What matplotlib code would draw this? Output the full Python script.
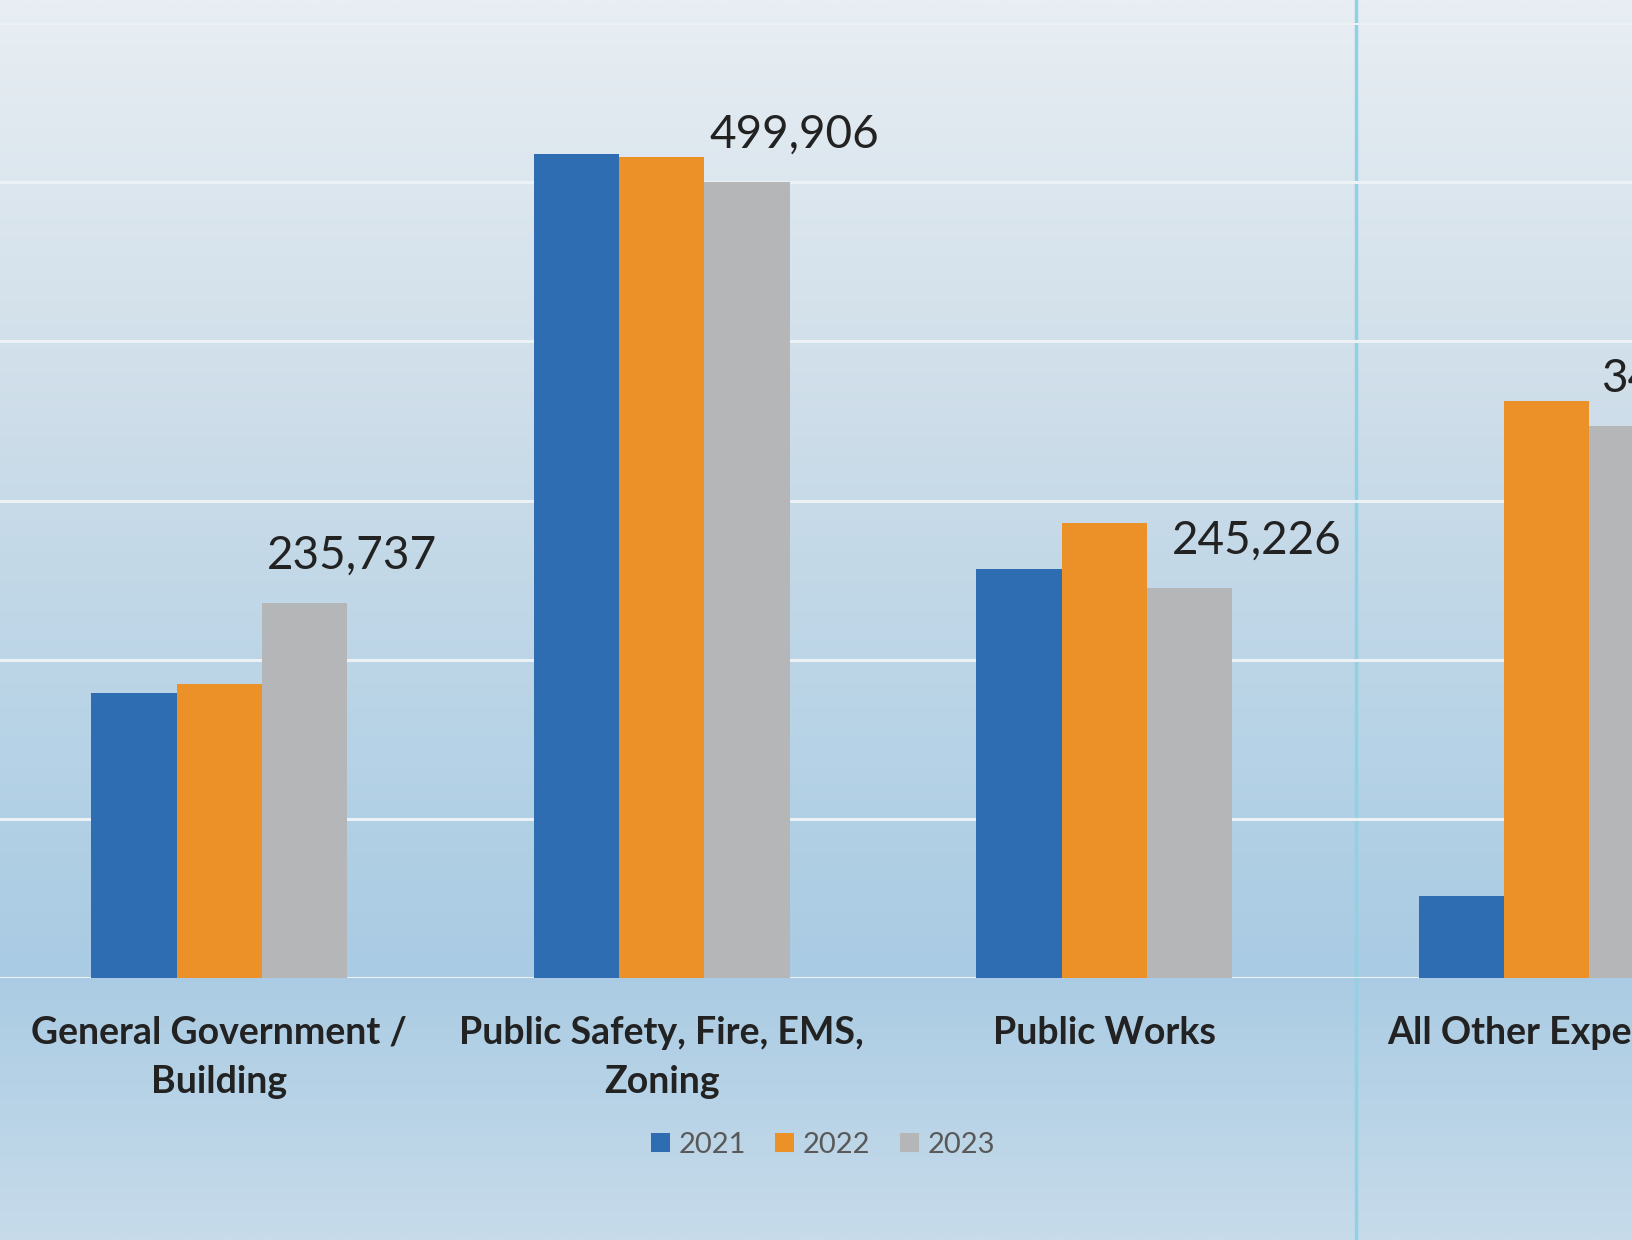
import matplotlib
matplotlib.use("Agg")
import matplotlib.pyplot as plt
import numpy as np
from matplotlib.colors import LinearSegmentedColormap
from matplotlib.patches import Patch

categories = ["General Government /\nBuilding", "Public Safety, Fire, EMS,\nZoning",
              "Public Works", "All Other Expenses"]
years = ["2021", "2022", "2023"]
v2021 = [179000, 518000, 257000, 51600]
v2022 = [185000, 516000, 286000, 362500]
v2023 = [235737, 499906, 245226, 346800]
labels2023 = ["235,737", "499,906", "245,226", "346,800"]

colors = ["#2E6DB2", "#EC9127", "#B4B6B8"]
label_dx = [0.01, 0.01, 0.055, 0.025]  # label shift (axis units) from gray bar edge

W, H = 1632, 1240
fig = plt.figure(figsize=(W / 100, H / 100), dpi=100)

# background gradient
bg = fig.add_axes([0, 0, 1, 1], zorder=0)
stops = [(0.0, "#E8EEF3"), (0.34, "#CDDDE9"), (0.62, "#B5D2E6"), (0.78, "#A9CBE3"), (1.0, "#C7DBEA")]
cmap = LinearSegmentedColormap.from_list("bg", stops)
grad = np.linspace(0, 1, 512).reshape(-1, 1)
bg.imshow(grad, aspect="auto", cmap=cmap, extent=[0, 1, 0, 1], origin="upper")
bg.set_xlim(0, 1); bg.set_ylim(0, 1)
bg.axis("off")
# scan artifact vertical line
bg.axvline(1356 / W, color="#8FD2E4", lw=2.5)

ax_bottom = (H - 978) / H
ax_top = (H - 23) / H
ax = fig.add_axes([-2 / W, ax_bottom, 1770 / W, ax_top - ax_bottom], zorder=1)
ax.set_facecolor("none")

x = np.arange(len(categories))
w = 0.1926
for i, (vals, c) in enumerate(zip([v2021, v2022, v2023], colors)):
    ax.bar(x + (i - 1) * w, vals, width=w, color=c, zorder=3, label=years[i])

ax.set_xlim(-0.5, 3.5)
ax.set_ylim(0, 600000)
ax.set_yticks(np.arange(0, 600001, 100000))
ax.yaxis.grid(True, color="#EBF1F5", lw=2.2, zorder=1)
ax.set_axisbelow(True)
ax.tick_params(axis="y", left=False, labelleft=False)
for s in ax.spines.values():
    s.set_visible(False)

ax.set_xticks(x)
ax.set_xticklabels(categories, fontsize=27, fontweight="bold", family="Lato",
                   color="#222222", linespacing=1.55)
ax.tick_params(axis="x", length=0, pad=27)

for xi, v, lab, dx in zip(x, v2023, labels2023, label_dx):
    ax.annotate(lab, (xi + 1.5 * w + dx, v), xytext=(0, 34), textcoords="offset points",
                ha="center", va="center", fontsize=33, family="Lato", color="#222222", zorder=4)

handles = [Patch(facecolor=c, label=y) for c, y in zip(colors, years)]
fig.legend(handles=handles, loc="center", bbox_to_anchor=(823 / W, (H - 1145) / H), ncol=3,
           frameon=False, prop={"family": "Lato", "size": 21}, labelcolor="#595959",
           handlelength=0.65, handleheight=0.65, handletextpad=0.3, columnspacing=1.0)

fig.savefig("out.png", dpi=100)
